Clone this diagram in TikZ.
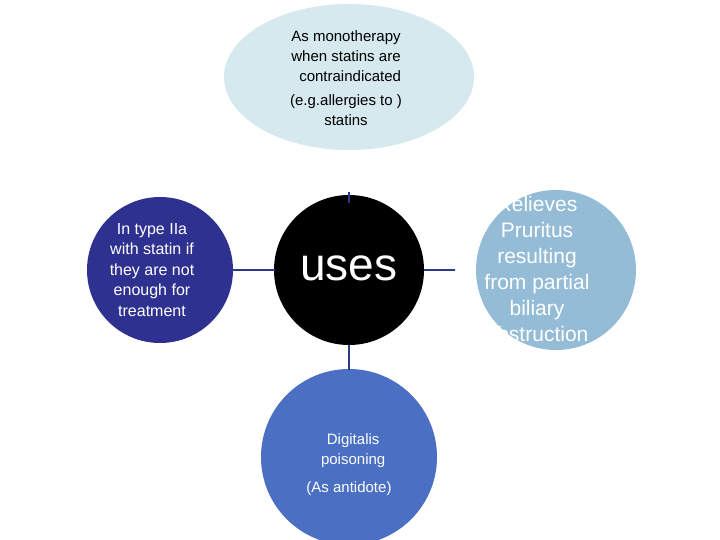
\documentclass[tikz,border=0pt]{standalone}
\usepackage{fontspec}
\setmainfont{Liberation Sans}
\definecolor{topc}{HTML}{D5E9EE}
\definecolor{leftc}{HTML}{2E3190}
\definecolor{rightc}{HTML}{94BCD6}
\definecolor{botc}{HTML}{4A6FC3}
\definecolor{linec}{HTML}{2E3A87}
\begin{document}
\begin{tikzpicture}[x=1pt,y=-1pt,
  conn/.style={draw=linec,line width=2.5pt},
  txt/.style={align=center,font=\fontsize{15}{20}\selectfont}]
\useasboundingbox (0,0) rectangle (720,540);
\fill[topc] (349,77) ellipse [x radius=125, y radius=73];
\node[txt] (top) at (346,78) {As monotherapy\\when statins are\\\ \ contraindicated\\[4pt](e.g.allergies to )\\statins};
\fill[black] (349,270) circle (75);
\node[font=\fontsize{46}{50}\selectfont,white] (uses) at (349,268) {uses};
\fill[leftc] (160,270) circle (73);
\node[txt,white,font=\fontsize{16}{20.5}\selectfont] (left) at (152,270) {In type IIa\\with statin if\\they are not\\enough for\\treatment};
\fill[rightc] (556,270) circle (80);
\node[txt,white,font=\fontsize{21}{26}\selectfont] (right) at (537,269) {Relieves\\Pruritus\\resulting\\from partial\\biliary\\obstruction};
\fill[botc] (349,457) circle (88);
\node[txt,white] (bot) at (349,465) {\ \ Digitalis\\\ \ poisoning\\[8pt](As antidote)};
\coordinate (t1) at (349,192); \coordinate (t2) at (349,203);
\draw[conn] (t1) -- (t2);
\coordinate (l1) at (232,270); \coordinate (l2) at (275,270);
\draw[conn] (l1) -- (l2);
\coordinate (r1) at (424,270); \coordinate (r2) at (455,270);
\draw[conn] (r1) -- (r2);
\coordinate (b1) at (349,345); \coordinate (b2) at (349,370);
\draw[conn] (b1) -- (b2);
\end{tikzpicture}
\end{document}
